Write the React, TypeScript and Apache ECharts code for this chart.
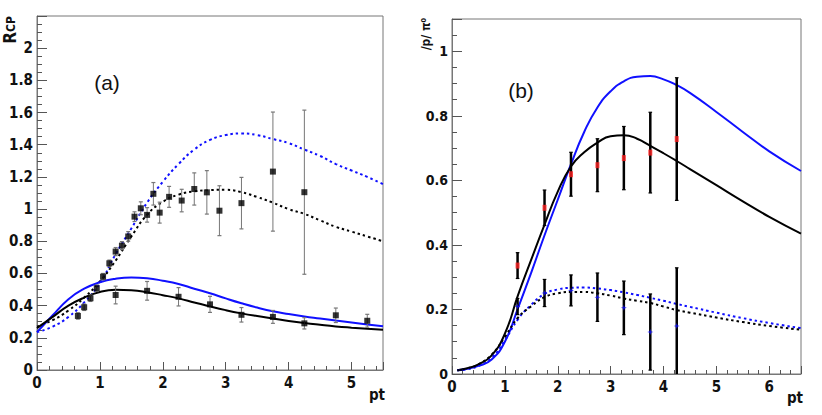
import React, { useEffect, useRef } from 'react';
import * as echarts from 'echarts';

// ---------- Panel (a): R_CP ----------
const aPt = [0.65, 0.75, 0.85, 0.95, 1.05, 1.15, 1.25, 1.35, 1.45, 1.55, 1.65, 1.75, 1.85, 1.95, 2.1, 2.3, 2.5, 2.7, 2.9, 3.25, 3.75, 4.25];
const aVal = [0.336, 0.39, 0.446, 0.508, 0.58, 0.663, 0.736, 0.773, 0.83, 0.953, 1.005, 0.964, 1.095, 0.978, 1.076, 1.053, 1.125, 1.104, 0.99, 1.037, 1.233, 1.105];
const aErr = [0.02, 0.02, 0.02, 0.02, 0.02, 0.02, 0.025, 0.025, 0.03, 0.03, 0.04, 0.045, 0.07, 0.065, 0.065, 0.07, 0.1, 0.135, 0.155, 0.16, 0.37, 0.51];

const bPt = [1.25, 1.75, 2.25, 2.75, 3.25, 3.75, 4.25, 4.75, 5.25];
const bVal = [0.466, 0.492, 0.455, 0.408, 0.343, 0.33, 0.29, 0.34, 0.306];
const bErr = [0.055, 0.058, 0.057, 0.05, 0.045, 0.04, 0.035, 0.045, 0.04];

const leftCurvePt = [0, 0.25, 0.5, 0.75, 1, 1.25, 1.5, 1.75, 2, 2.25, 2.5, 2.75, 3, 3.25, 3.5, 3.75, 4, 4.25, 4.5, 4.75, 5, 5.25, 5.5];
const leftBlueDotted = [0.235, 0.27, 0.33, 0.42, 0.54, 0.72, 0.88, 1.04, 1.17, 1.28, 1.37, 1.43, 1.46, 1.47, 1.46, 1.435, 1.41, 1.37, 1.33, 1.28, 1.24, 1.2, 1.155];
const leftBlackDotted = [0.27, 0.31, 0.37, 0.45, 0.55, 0.68, 0.83, 0.965, 1.045, 1.09, 1.11, 1.118, 1.12, 1.105, 1.075, 1.04, 1.0, 0.97, 0.93, 0.89, 0.86, 0.83, 0.8];
const leftBlueSolid = [0.235, 0.34, 0.44, 0.505, 0.545, 0.567, 0.575, 0.57, 0.555, 0.535, 0.505, 0.477, 0.445, 0.415, 0.388, 0.365, 0.348, 0.333, 0.32, 0.307, 0.295, 0.283, 0.272];
const leftBlackSolid = [0.26, 0.33, 0.4, 0.45, 0.485, 0.498, 0.495, 0.483, 0.465, 0.445, 0.42, 0.395, 0.372, 0.352, 0.335, 0.32, 0.305, 0.292, 0.281, 0.271, 0.263, 0.256, 0.25];

// ---------- Panel (b): p / pi0 ----------
const rPt = [1.24, 1.75, 2.25, 2.75, 3.25, 3.75, 4.25];
const redVal = [0.336, 0.515, 0.619, 0.647, 0.669, 0.686, 0.728];
const redErr = [0.04, 0.055, 0.068, 0.082, 0.098, 0.125, 0.19];
const blueVal = [0.209, 0.251, 0.259, 0.238, 0.205, 0.13, 0.149];
const blueErr = [0.025, 0.042, 0.048, 0.075, 0.083, 0.118, 0.18];

const rightCurvePt = [0.1, 0.25, 0.5, 0.75, 1, 1.25, 1.5, 1.75, 2, 2.25, 2.5, 2.75, 3, 3.25, 3.5, 3.75, 4, 4.25, 4.5, 5, 5.5, 6, 6.6];
const rightBlueSolid = [0.012, 0.015, 0.025, 0.045, 0.1, 0.205, 0.315, 0.43, 0.54, 0.65, 0.75, 0.826, 0.876, 0.907, 0.921, 0.923, 0.913, 0.895, 0.871, 0.812, 0.75, 0.69, 0.629];
const rightBlackSolid = [0.012, 0.016, 0.03, 0.058, 0.125, 0.245, 0.355, 0.463, 0.565, 0.643, 0.687, 0.717, 0.737, 0.74, 0.729, 0.707, 0.684, 0.66, 0.635, 0.585, 0.535, 0.487, 0.435];
const rightBlueDotted = [0.012, 0.014, 0.025, 0.05, 0.105, 0.17, 0.215, 0.248, 0.262, 0.267, 0.268, 0.265, 0.26, 0.253, 0.245, 0.236, 0.227, 0.217, 0.208, 0.19, 0.173, 0.158, 0.142];
const rightBlackDotted = [0.012, 0.016, 0.03, 0.06, 0.115, 0.175, 0.21, 0.238, 0.25, 0.254, 0.254, 0.25, 0.243, 0.234, 0.227, 0.22, 0.209, 0.198, 0.19, 0.175, 0.161, 0.149, 0.137];

const FONT = "'Liberation Sans Narrow', 'DejaVu Sans Condensed', 'Liberation Sans', Arial, sans-serif";
const BLUE = '#1010ff';

const pairs = (xs: number[], ys: number[]) => xs.map((x, i) => [x, ys[i]]);
const triples = (xs: number[], ys: number[], es: number[]) => xs.map((x, i) => [x, ys[i], es[i]]);

function majorX(grid: number, max: number) {
  return {
    type: 'value', gridIndex: grid, min: 0, max, interval: 1, position: 'bottom',
    axisLine: { show: true, onZero: false, lineStyle: { color: '#777', width: 1 } },
    axisTick: { show: true, inside: true, length: 8, lineStyle: { color: '#555' } },
    axisLabel: {
      show: true, margin: 5, color: '#111', fontFamily: FONT, fontWeight: 'bold', fontSize: 15,
      formatter: (v: number) => (Math.abs(v - Math.round(v)) < 1e-6 ? String(Math.round(v)) : ''),
    },
    splitLine: { show: false },
  };
}
function minorX(grid: number, max: number) {
  return {
    type: 'value', gridIndex: grid, min: 0, max, interval: 0.2, position: 'bottom',
    axisLine: { show: false, onZero: false },
    axisTick: { show: true, inside: true, length: 4, lineStyle: { color: '#555' } },
    axisLabel: { show: false },
    splitLine: { show: false },
  };
}
function majorY(grid: number, max: number, labelMax: number, fontSize: number) {
  return {
    type: 'value', gridIndex: grid, min: 0, max, interval: 0.2, position: 'left',
    axisLine: { show: true, onZero: false, lineStyle: { color: '#777', width: 1 } },
    axisTick: { show: true, inside: true, length: 10, lineStyle: { color: '#555' } },
    axisLabel: {
      show: true, margin: 4, color: '#111', fontFamily: FONT, fontWeight: 'bold', fontSize,
      formatter: (v: number) => (v > labelMax + 1e-6 ? '' : String(parseFloat(v.toFixed(1)))),
    },
    splitLine: { show: false },
  };
}
function minorY(grid: number, max: number) {
  return {
    type: 'value', gridIndex: grid, min: 0, max, interval: 0.05, position: 'left',
    axisLine: { show: false, onZero: false },
    axisTick: { show: true, inside: true, length: 5, lineStyle: { color: '#555' } },
    axisLabel: { show: false },
    splitLine: { show: false },
  };
}

function curve(xi: number, xs: number[], ys: number[], color: string, dotted: boolean) {
  return {
    type: 'line', xAxisIndex: xi, yAxisIndex: xi, data: pairs(xs, ys), smooth: true,
    showSymbol: false, symbol: 'none', z: 2, silent: true,
    lineStyle: { color, width: 2, type: dotted ? [2.5, 3] : 'solid' },
  };
}

function errBars(xi: number, xs: number[], ys: number[], es: number[], color: string, width: number, cap: number) {
  return {
    type: 'custom', xAxisIndex: xi, yAxisIndex: xi, data: triples(xs, ys, es), encode: { x: 0, y: 1 },
    clip: true, z: 3, silent: true,
    renderItem: (params: any, api: any) => {
      const x = api.value(0), y = api.value(1), e = api.value(2);
      const lo = Math.max(0, y - e);
      const t = api.coord([x, y + e]);
      const b = api.coord([x, lo]);
      const children: any[] = [
        { type: 'line', shape: { x1: t[0], y1: t[1], x2: b[0], y2: b[1] }, style: { stroke: color, lineWidth: width } },
        { type: 'line', shape: { x1: t[0] - cap, y1: t[1], x2: t[0] + cap, y2: t[1] }, style: { stroke: color, lineWidth: 1.2 } },
      ];
      if (y - e > 0) {
        children.push({ type: 'line', shape: { x1: b[0] - cap, y1: b[1], x2: b[0] + cap, y2: b[1] }, style: { stroke: color, lineWidth: 1.2 } });
      }
      return { type: 'group', children };
    },
  };
}

export default function App() {
  const ref = useRef<HTMLDivElement>(null);
  useEffect(() => {
    const chart = echarts.init(ref.current as HTMLDivElement, null, { renderer: 'svg' });
    const option: any = {
      animation: false,
      backgroundColor: '#fff',
      grid: [
        { left: 37, top: 16, width: 346, height: 354, show: true, borderColor: '#777', borderWidth: 1, backgroundColor: 'transparent' },
        { left: 452, top: 19, width: 349, height: 355, show: true, borderColor: '#777', borderWidth: 1, backgroundColor: 'transparent' },
      ],
      xAxis: [majorX(0, 5.5), minorX(0, 5.5), majorX(1, 6.6), minorX(1, 6.6)],
      yAxis: [majorY(0, 2.2, 2.0, 15), minorY(0, 2.2), majorY(1, 1.1, 1.0, 14), minorY(1, 1.1)],
      series: [
        // panel (a)
        curve(0, leftCurvePt, leftBlueDotted, BLUE, true),
        curve(0, leftCurvePt, leftBlackDotted, '#000', true),
        curve(0, leftCurvePt, leftBlueSolid, BLUE, false),
        curve(0, leftCurvePt, leftBlackSolid, '#000', false),
        errBars(0, aPt, aVal, aErr, '#777', 1, 2),
        errBars(0, bPt, bVal, bErr, '#777', 1, 2),
        { type: 'scatter', xAxisIndex: 0, yAxisIndex: 0, data: pairs(aPt, aVal), symbol: 'rect', symbolSize: 6, itemStyle: { color: '#000' }, z: 4, silent: true },
        { type: 'scatter', xAxisIndex: 0, yAxisIndex: 0, data: pairs(bPt, bVal), symbol: 'rect', symbolSize: 6, itemStyle: { color: '#000' }, z: 4, silent: true },
        // panel (b)
        curve(2, rightCurvePt, rightBlueSolid, BLUE, false),
        curve(2, rightCurvePt, rightBlackSolid, '#000', false),
        curve(2, rightCurvePt, rightBlueDotted, BLUE, true),
        curve(2, rightCurvePt, rightBlackDotted, '#000', true),
        errBars(2, rPt, redVal, redErr, '#000', 2.5, 1.8),
        errBars(2, rPt, blueVal, blueErr, '#000', 2.5, 1.8),
        { type: 'scatter', xAxisIndex: 2, yAxisIndex: 2, data: pairs(rPt, redVal), symbol: 'rect', symbolSize: [4, 6], itemStyle: { color: '#ff2020' }, z: 4, silent: true },
        { type: 'scatter', xAxisIndex: 2, yAxisIndex: 2, data: pairs(rPt, blueVal), symbol: 'path://M0,-10L2.5,-2.5L10,0L2.5,2.5L0,10L-2.5,2.5L-10,0L-2.5,-2.5Z', symbolSize: 6, itemStyle: { color: BLUE }, z: 4, silent: true },
      ],
      graphic: [
        {
          type: 'text', x: 10, y: 30, rotation: Math.PI / 2, silent: true,
          style: {
            text: '{r|R}{s|CP}', align: 'center', verticalAlign: 'middle', fill: '#111',
            rich: {
              r: { fontSize: 17, fontWeight: 'bold', fontFamily: FONT, fill: '#111', verticalAlign: 'top' },
              s: { fontSize: 12, fontWeight: 'bold', fontFamily: FONT, fill: '#111', verticalAlign: 'top', padding: [3, 0, 0, 0] },
            },
          },
        },
        {
          type: 'text', x: 426, y: 34, rotation: Math.PI / 2, silent: true,
          style: { text: '/p/ π⁰', align: 'center', verticalAlign: 'middle', fill: '#111', fontSize: 12, fontWeight: 'bold', fontFamily: FONT },
        },
        { type: 'text', x: 107, y: 82, silent: true, style: { text: '(a)', align: 'center', verticalAlign: 'middle', fill: '#111', fontSize: 21, fontFamily: "'Liberation Sans Narrow', 'Liberation Sans', Arial, sans-serif" } },
        { type: 'text', x: 521, y: 90, silent: true, style: { text: '(b)', align: 'center', verticalAlign: 'middle', fill: '#111', fontSize: 21, fontFamily: "'Liberation Sans Narrow', 'Liberation Sans', Arial, sans-serif" } },
        { type: 'text', x: 377, y: 395, silent: true, style: { text: 'pt', align: 'center', verticalAlign: 'middle', fill: '#111', fontSize: 15, fontWeight: 'bold', fontFamily: FONT } },
        { type: 'text', x: 795, y: 398, silent: true, style: { text: 'pt', align: 'center', verticalAlign: 'middle', fill: '#111', fontSize: 15, fontWeight: 'bold', fontFamily: FONT } },
      ],
    };
    chart.setOption(option);
    return () => chart.dispose();
  }, []);
  return <div ref={ref} style={{ position: 'absolute', left: 0, top: 0, width: 822, height: 415 }} />;
}
